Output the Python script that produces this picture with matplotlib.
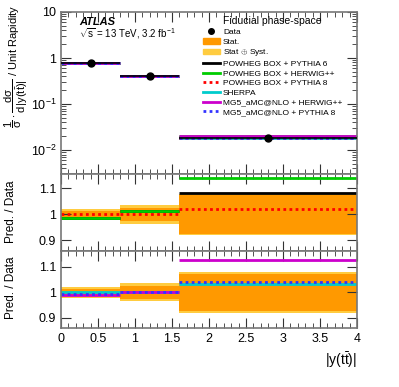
import numpy as np
import matplotlib
matplotlib.use('Agg')
import matplotlib.pyplot as plt
from matplotlib.patches import Patch
from matplotlib.lines import Line2D
from matplotlib.ticker import MultipleLocator, FuncFormatter

plt.rcParams['font.family'] = ['Liberation Sans', 'DejaVu Sans']
plt.rcParams['mathtext.fontset'] = 'custom'
plt.rcParams['mathtext.rm'] = 'Liberation Sans'
plt.rcParams['mathtext.it'] = 'Liberation Sans'

# Datos
edges = [0.0, 0.8, 1.6, 4.0]
centers = [0.4, 1.2, 2.8]
data = [0.78, 0.40, 0.018]
stat_rel = [0.015, 0.025, 0.074]
tot_rel = [0.021, 0.035, 0.079]

pw_py6 = [0.988, 1.012, 1.082]
pw_hw = [0.985, 1.014, 1.141]
pw_py8 = [1.0, 1.0, 1.022]
sherpa = [1.0, 1.0, 1.031]
mg5_hw = [0.99, 1.0, 1.127]
mg5_py8 = [0.995, 1.0, 1.039]

labels = ['POWHEG BOX + PYTHIA 6', 'POWHEG BOX + HERWIG++', 'POWHEG BOX + PYTHIA 8',
          'SHERPA', 'MG5_aMC@NLO + HERWIG++', 'MG5_aMC@NLO + PYTHIA 8']

c_stat = '#ff9900'
c_tot = '#ffcc40'
styles = {
    'pw_py6': dict(color='black', ls='-', lw=2),
    'pw_hw': dict(color='#00cc00', ls='-', lw=2),
    'pw_py8': dict(color='#ff0000', ls=(0, (1, 1.2)), lw=2),
    'sherpa': dict(color='#00cccc', ls='-', lw=2),
    'mg5_hw': dict(color='#cc00cc', ls='-', lw=2),
    'mg5_py8': dict(color='#3333ff', ls=(0, (1, 1.2)), lw=2),
}

lo = np.array(edges[:-1])
hi = np.array(edges[1:])
w = hi - lo
d = np.array(data)


def estilo(ax):
    ax.tick_params(which='both', direction='in', top=True, right=True,
                   labelsize=9, color='#333333')
    ax.tick_params(which='major', length=7)
    ax.tick_params(which='minor', length=3.5)
    for s in ax.spines.values():
        s.set_color('#777777')
        s.set_linewidth(1.2)
    ax.set_xlim(0, 4)
    ax.xaxis.set_major_locator(MultipleLocator(0.5))
    ax.xaxis.set_minor_locator(MultipleLocator(0.1))
    ax.xaxis.set_major_formatter(FuncFormatter(lambda v, p: '%g' % v))


def bandas(ax, centro):
    ax.bar(lo, 2 * np.array(tot_rel) * centro, width=w, bottom=centro * (1 - np.array(tot_rel)),
           align='edge', color=c_tot, lw=0)
    ax.bar(lo, 2 * np.array(stat_rel) * centro, width=w, bottom=centro * (1 - np.array(stat_rel)),
           align='edge', color=c_stat, lw=0)


def lineas(ax, nombres, escala):
    modelos = {'pw_py6': pw_py6, 'pw_hw': pw_hw, 'pw_py8': pw_py8,
               'sherpa': sherpa, 'mg5_hw': mg5_hw, 'mg5_py8': mg5_py8}
    for n in nombres:
        ax.hlines(np.array(modelos[n]) * escala, lo, hi, **styles[n])


fig = plt.figure(figsize=(3.99, 3.87), dpi=100)
ax1 = fig.add_axes([0.153, 0.550, 0.742, 0.419])
ax2 = fig.add_axes([0.153, 0.352, 0.742, 0.198])
ax3 = fig.add_axes([0.153, 0.152, 0.742, 0.200])

# Panel superior
bandas(ax1, d)
lineas(ax1, ['pw_py6', 'pw_hw', 'sherpa', 'pw_py8', 'mg5_hw', 'mg5_py8'], d)
ax1.errorbar(centers, d, xerr=[np.array(centers) - lo, hi - np.array(centers)],
             fmt='o', color='black', ms=5, lw=1.2, zorder=5)
ax1.set_yscale('log')
ax1.set_ylim(0.003, 10)
estilo(ax1)
ax1.set_yticks([0.01, 0.1, 1, 10])
ax1.set_yticklabels([r'$10^{-2}$', r'$10^{-1}$', '1', '10'])
ax1.tick_params(labelbottom=False)
ax1.set_ylabel(r'$\dfrac{1}{\sigma}\cdot\dfrac{d\sigma}{d\,|y(t\bar{t})|}$ / Unit Rapidity',
               fontsize=8, loc='top')
ax1.text(0.06, 0.94, 'ATLAS', transform=ax1.transAxes, fontsize=8,
         fontweight='bold', fontstyle='italic', va='center')
ax1.text(0.06, 0.865, r'$\sqrt{s}$ = 13 TeV, 3.2 fb$^{-1}$', transform=ax1.transAxes,
         fontsize=7, va='center')

handles = [Line2D([], [], marker='o', color='black', ls='none', ms=4),
           Patch(color=c_stat), Patch(color=c_tot)]
for k in ['pw_py6', 'pw_hw', 'pw_py8', 'sherpa', 'mg5_hw', 'mg5_py8']:
    handles.append(Line2D([], [], **styles[k]))
ax1.legend(handles, ['Data', 'Stat.', r'Stat $\oplus$ Syst.'] + labels,
           loc='upper left', bbox_to_anchor=(0.46, 1.01), frameon=False, fontsize=6,
           title='Fiducial phase-space', title_fontsize=7.5, handlelength=2.0,
           labelspacing=0.22, handletextpad=0.4, borderaxespad=0.3)

# Panel del medio
bandas(ax2, np.ones(3))
lineas(ax2, ['pw_py6', 'pw_hw', 'pw_py8'], 1.0)
ax2.set_ylim(0.86, 1.155)
estilo(ax2)
ax2.set_yticks([0.9, 1.0, 1.1])
ax2.set_yticklabels(['0.9', '1', '1.1'])
ax2.tick_params(which='minor', axis='y', length=0)
ax2.tick_params(labelbottom=False)
ax2.set_ylabel('Pred. / Data', fontsize=8.5, loc='top')

# Panel inferior
bandas(ax3, np.ones(3))
lineas(ax3, ['sherpa', 'mg5_hw', 'mg5_py8'], 1.0)
ax3.set_ylim(0.86, 1.163)
estilo(ax3)
ax3.set_yticks([0.9, 1.0, 1.1])
ax3.set_yticklabels(['0.9', '1', '1.1'])
ax3.tick_params(which='minor', axis='y', length=0)
ax3.set_ylabel('Pred. / Data', fontsize=8.5, loc='top')
ax3.set_xlabel(r'$|y(t\bar{t})|$', fontsize=10, loc='right')

ax1.yaxis.set_label_coords(-0.105, 1.045)
ax2.yaxis.set_label_coords(-0.15, 0.92)
ax3.yaxis.set_label_coords(-0.15, 0.92)

fig.savefig('out.png', dpi=100)
